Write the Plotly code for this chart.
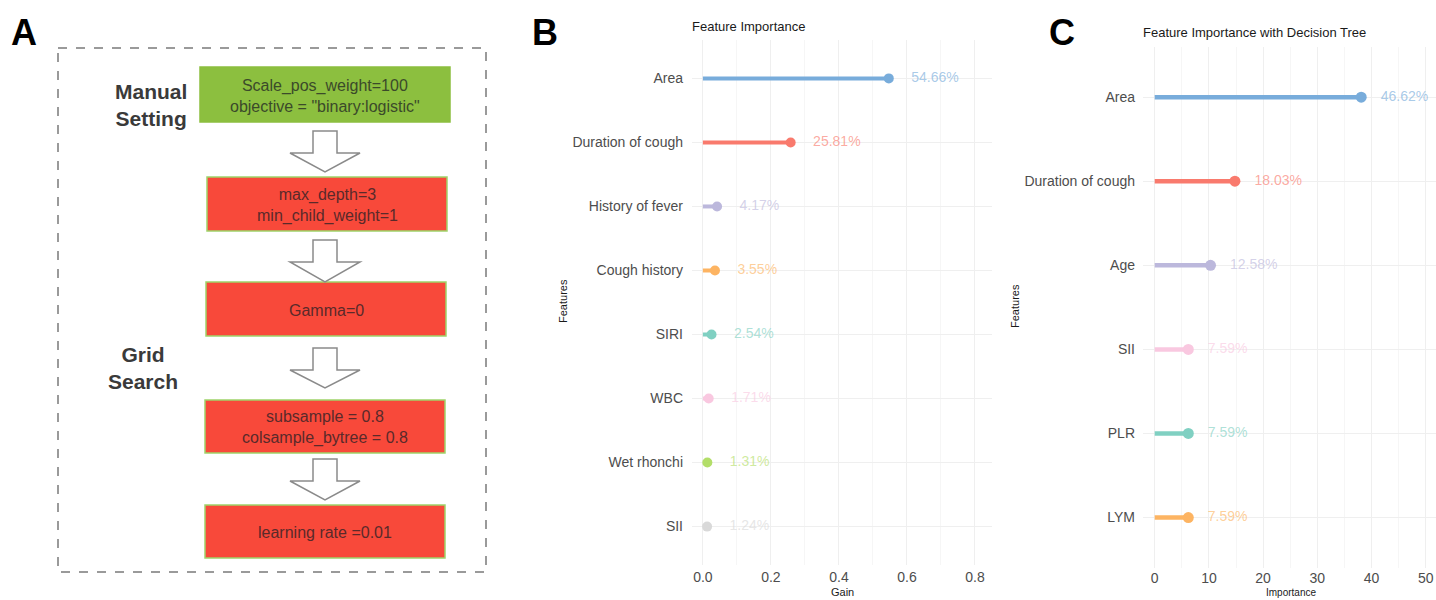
import plotly.graph_objects as go

W, H = 1436, 600

# ---------------- data ----------------
b_features = ["Area", "Duration of cough", "History of fever", "Cough history",
              "SIRI", "WBC", "Wet rhonchi", "SII"]
b_gain = [0.5466, 0.2581, 0.0417, 0.0355, 0.0254, 0.0171, 0.0131, 0.0124]
b_labels = ["54.66%", "25.81%", "4.17%", "3.55%", "2.54%", "1.71%", "1.31%", "1.24%"]
b_colors = ["#78acdb", "#f97a6d", "#bcb8dc", "#fdb462", "#80d0c2", "#f9c8e0", "#b3de69", "#d9d9d9"]
b_ticks = [0.0, 0.2, 0.4, 0.6, 0.8]

c_features = ["Area", "Duration of cough", "Age", "SII", "PLR", "LYM"]
c_importance = [38.1, 14.8, 10.3, 6.2, 6.2, 6.2]
c_labels = ["46.62%", "18.03%", "12.58%", "7.59%", "7.59%", "7.59%"]
c_colors = ["#78acdb", "#f97a6d", "#bcb8dc", "#f9c8e0", "#80d0c2", "#fdb462"]
c_ticks = [0, 10, 20, 30, 40, 50]

flow_texts = ["Scale_pos_weight=100<br>objective = \"binary:logistic\"",
              "max_depth=3<br>min_child_weight=1",
              "Gamma=0",
              "subsample = 0.8<br>colsample_bytree = 0.8",
              "learning rate =0.01"]
flow_kinds = ["manual", "grid", "grid", "grid", "grid"]
stage_labels = ["Manual<br>Setting", "Grid<br>Search"]

# ---------------- helpers (pixel -> paper) ----------------
def px(x):
    return x / W

def py(y):
    return 1 - y / H

def hex_rgba(h, a):
    h = h.lstrip("#")
    return "rgba(%d,%d,%d,%.2f)" % (int(h[0:2], 16), int(h[2:4], 16), int(h[4:6], 16), a)

FONT = "Liberation Sans, Arial"
fig = go.Figure()

# ---------------- panel B ----------------
b_off = 0.066
for f, v, lab, col in zip(b_features, b_gain, b_labels, b_colors):
    fig.add_trace(go.Scatter(x=[0, v], y=[f, f], mode="lines",
                             line=dict(color=col, width=4), xaxis="x", yaxis="y",
                             showlegend=False, hoverinfo="skip"))
    fig.add_trace(go.Scatter(x=[v], y=[f], mode="markers",
                             marker=dict(color=col, size=10), xaxis="x", yaxis="y",
                             showlegend=False))
    fig.add_trace(go.Scatter(x=[v + b_off], y=[f], mode="text", text=[lab],
                             textposition="middle right",
                             textfont=dict(color=hex_rgba(col, 0.65), size=14, family=FONT),
                             xaxis="x", yaxis="y", showlegend=False, hoverinfo="skip"))

# ---------------- panel C ----------------
c_off = 3.6
for f, v, lab, col in zip(c_features, c_importance, c_labels, c_colors):
    fig.add_trace(go.Scatter(x=[0, v], y=[f, f], mode="lines",
                             line=dict(color=col, width=4.5), xaxis="x2", yaxis="y2",
                             showlegend=False, hoverinfo="skip"))
    fig.add_trace(go.Scatter(x=[v], y=[f], mode="markers",
                             marker=dict(color=col, size=11), xaxis="x2", yaxis="y2",
                             showlegend=False))
    fig.add_trace(go.Scatter(x=[v + c_off], y=[f], mode="text", text=[lab],
                             textposition="middle right",
                             textfont=dict(color=hex_rgba(col, 0.65), size=14, family=FONT),
                             xaxis="x2", yaxis="y2", showlegend=False, hoverinfo="skip"))

grid_major = "#efefef"
grid_minor = "#f6f6f6"
tickfont = dict(size=14, color="#4d4d4d", family=FONT)

fig.update_layout(
    width=W, height=H,
    margin=dict(l=0, r=0, t=0, b=0),
    paper_bgcolor="white", plot_bgcolor="white",
    font=dict(family=FONT),
    xaxis=dict(domain=[px(692), px(992)], range=[-0.032, 0.85],
               tickvals=b_ticks, ticktext=["%.1f" % t for t in b_ticks],
               showgrid=True, gridcolor=grid_major, gridwidth=1,
               minor=dict(dtick=0.1, tick0=0, showgrid=True, gridcolor=grid_minor),
               zeroline=False, showline=False, ticks="", tickfont=tickfont,
               ticklabelstandoff=2, anchor="y"),
    yaxis=dict(domain=[py(565), py(40)], type="category",
               categoryorder="array", categoryarray=b_features[::-1],
               range=[-0.6, len(b_features) - 0.4],
               showgrid=True, gridcolor=grid_major, zeroline=False, showline=False,
               ticks="", tickfont=tickfont, ticklabelstandoff=8, anchor="x"),
    xaxis2=dict(domain=[px(1143), 1.0], range=[-2.16, 51.9],
                tickvals=c_ticks,
                showgrid=True, gridcolor=grid_major, gridwidth=1,
                minor=dict(dtick=5, tick0=0, showgrid=True, gridcolor=grid_minor),
                zeroline=False, showline=False, ticks="", tickfont=tickfont,
                ticklabelstandoff=0, anchor="y2"),
    yaxis2=dict(domain=[py(568), py(46.7)], type="category",
                categoryorder="array", categoryarray=c_features[::-1],
                range=[-0.6, len(c_features) - 0.4],
                showgrid=True, gridcolor=grid_major, zeroline=False, showline=False,
                ticks="", tickfont=tickfont, ticklabelstandoff=7, anchor="x2"),
)

ann = []
shapes = []

# panel letters
for letter, (lx, ly) in zip(["A", "B", "C"], [(24, 32), (545, 32), (1062, 32)]):
    ann.append(dict(text="<b>%s</b>" % letter, x=px(lx), y=py(ly), xref="paper", yref="paper",
                    showarrow=False, xanchor="center", yanchor="middle",
                    font=dict(size=36, color="black", family=FONT)))

# chart titles / axis titles
ann.append(dict(text="Feature Importance", x=px(690), y=py(26), xref="paper", yref="paper",
                showarrow=False, xanchor="left", yanchor="middle",
                font=dict(size=13, color="#1a1a1a")))
ann.append(dict(text="Feature Importance with Decision Tree", x=px(1141), y=py(32),
                xref="paper", yref="paper", showarrow=False, xanchor="left", yanchor="middle",
                font=dict(size=13, color="#1a1a1a")))
ann.append(dict(text="Gain", x=px(842), y=py(592), xref="paper", yref="paper",
                showarrow=False, xanchor="center", yanchor="middle",
                font=dict(size=11, color="#1a1a1a")))
ann.append(dict(text="Importance", x=px(1291), y=py(600), xref="paper", yref="paper",
                showarrow=False, xanchor="center", yanchor="bottom",
                font=dict(size=10, color="#1a1a1a")))
ann.append(dict(text="Features", x=px(563), y=py(301), xref="paper", yref="paper",
                showarrow=False, xanchor="center", yanchor="middle", textangle=-90,
                font=dict(size=11, color="#1a1a1a")))
ann.append(dict(text="Features", x=px(1015), y=py(306), xref="paper", yref="paper",
                showarrow=False, xanchor="center", yanchor="middle", textangle=-90,
                font=dict(size=11, color="#1a1a1a")))

# ---------------- panel A: flowchart ----------------
shapes.append(dict(type="rect", xref="paper", yref="paper",
                   x0=px(58), x1=px(486), y0=py(48), y1=py(572),
                   line=dict(color="#7a7a7a", width=1.5, dash="dash"), fillcolor="rgba(0,0,0,0)"))

boxes = [(200, 67, 450, 122), (207, 177, 447, 231), (206, 282, 446, 336),
         (205, 400, 445, 453), (205, 505, 445, 558)]
for (x0, y0, x1, y1), txt, kind in zip(boxes, flow_texts, flow_kinds):
    if kind == "manual":
        fill, border, tcol = "#8cbf3f", "#8cbf3f", "#3b4a2a"
    else:
        fill, border, tcol = "#f8493a", "#9fd36a", "#5a2a2a"
    shapes.append(dict(type="rect", xref="paper", yref="paper",
                       x0=px(x0), x1=px(x1), y0=py(y0), y1=py(y1),
                       line=dict(color=border, width=1.5), fillcolor=fill, layer="below"))
    ann.append(dict(text=txt, x=px((x0 + x1) / 2), y=py((y0 + y1) / 2 + 1),
                    xref="paper", yref="paper", showarrow=False,
                    xanchor="center", yanchor="middle",
                    font=dict(size=16, color=tcol, family=FONT)))

arrows = [(131, 153, 172), (240, 262, 282), (348, 370, 388), (459, 481, 500)]
cx = 325
for (t, m, tip) in arrows:
    pts = [(cx - 12, t), (cx + 12, t), (cx + 12, m), (cx + 35, m), (cx, tip),
           (cx - 35, m), (cx - 12, m)]
    path = "M " + " L ".join("%f,%f" % (px(a), py(b)) for a, b in pts) + " Z"
    shapes.append(dict(type="path", xref="paper", yref="paper", path=path,
                       line=dict(color="#8a8a8a", width=1.5), fillcolor="white"))

for lab, (lx, ly) in zip(stage_labels, [(151, 105), (143, 368)]):
    ann.append(dict(text="<b>%s</b>" % lab, x=px(lx), y=py(ly), xref="paper", yref="paper",
                    showarrow=False, xanchor="center", yanchor="middle",
                    font=dict(size=21, color="#3a3a3a", family=FONT)))

fig.update_layout(annotations=ann, shapes=shapes)

fig.write_html("out.html", config={"displayModeBar": False},
               post_script="document.body.style.margin='0';document.body.style.overflow='hidden';")
